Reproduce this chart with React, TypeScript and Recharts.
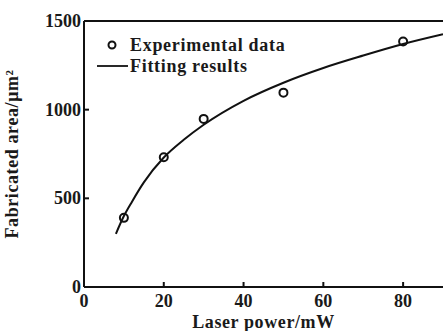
import { ComposedChart, Line, Scatter, XAxis, YAxis, ReferenceLine } from "recharts"

// measured points
const powerExp = [10, 20, 30, 50, 80]
const areaExp = [390, 732, 948, 1096, 1384]

// fitted curve
const powerFit = [8, 10, 12, 15, 20, 25, 30, 40, 50, 60, 70, 80, 90]
const areaFit = [300, 400, 480, 590, 730, 830, 915, 1050, 1152, 1235, 1305, 1370, 1425]

const xTicks = [0, 20, 40, 60, 80]
const yTicks = [0, 500, 1000, 1500]

const expData = powerExp.map((p, i) => ({ power: p, area: areaExp[i] }))
const fitData = powerFit.map((p, i) => ({ power: p, fit: areaFit[i] }))

const font = "'Liberation Serif', 'Times New Roman', serif"
const txt = { fontFamily: font, fontSize: 18, fontWeight: "bold" as const, fill: "#1a1a1a" }

function XTick(props: any) {
  const { x, y, payload } = props
  return (
    <g>
      {payload.value !== 0 && <line x1={x} x2={x} y1={y} y2={y - 5} stroke="#111" strokeWidth={2} />}
      <text x={x} y={y + 20} textAnchor="middle" {...txt}>
        {payload.value}
      </text>
    </g>
  )
}

function YTick(props: any) {
  const { x, y, payload } = props
  return (
    <g>
      {payload.value !== 0 && payload.value !== 1500 && (
        <line x1={x} x2={x + 5} y1={y} y2={y} stroke="#111" strokeWidth={2} />
      )}
      <text x={x - 3} y={y + 6} textAnchor="end" {...txt}>
        {payload.value}
      </text>
    </g>
  )
}

function LegendBox() {
  return (
    <svg width={220} height={50} style={{ position: "absolute", left: 95, top: 33 }}>
      <circle cx={17} cy={12} r={3.5} fill="#fff" stroke="#111" strokeWidth={2} />
      <text x={35} y={18} {...txt} style={{ letterSpacing: 0.7 }}>
        Experimental  data
      </text>
      <line x1={2} x2={33} y1={33} y2={33} stroke="#111" strokeWidth={1.8} />
      <text x={35} y={39} {...txt} style={{ letterSpacing: 0.7 }}>
        Fitting  results
      </text>
    </svg>
  )
}

export default function App() {
  return (
    <div style={{ position: "absolute", left: 0, top: 0, width: 443, height: 331, background: "#fff", overflow: "hidden" }}>
      <ComposedChart width={443} height={331} margin={{ top: 21, right: 0, bottom: 0, left: 0 }}>
        <XAxis
          type="number"
          dataKey="power"
          domain={[0, 90]}
          ticks={xTicks}
          allowDataOverflow
          height={44}
          tickSize={0}
          tickMargin={0}
          tick={<XTick />}
          axisLine={{ stroke: "#111", strokeWidth: 2 }}
          label={{ value: "Laser  power/mW", position: "insideBottom", offset: 3, style: { ...txt, letterSpacing: 0.6 } }}
        />
        <YAxis
          type="number"
          domain={[0, 1500]}
          ticks={yTicks}
          width={84}
          tickSize={0}
          tickMargin={0}
          tick={<YTick />}
          axisLine={{ stroke: "#111", strokeWidth: 2 }}
          label={{
            value: "Fabricated  area/μm²",
            angle: -90,
            position: "insideLeft",
            offset: 12,
            style: { ...txt, textAnchor: "middle", letterSpacing: 0.6 },
          }}
        />
        <ReferenceLine y={1500} stroke="#111" strokeWidth={2} />
        <Line
          data={fitData}
          dataKey="fit"
          type="monotone"
          stroke="#111"
          strokeWidth={2}
          dot={false}
          isAnimationActive={false}
        />
        <Scatter
          data={expData}
          dataKey="area"
          fill="#fff"
          stroke="#111"
          strokeWidth={2}
          shape={(p: any) => <circle cx={p.cx} cy={p.cy} r={4} fill="none" stroke="#111" strokeWidth={2} />}
          isAnimationActive={false}
        />
      </ComposedChart>
      <LegendBox />
    </div>
  )
}
